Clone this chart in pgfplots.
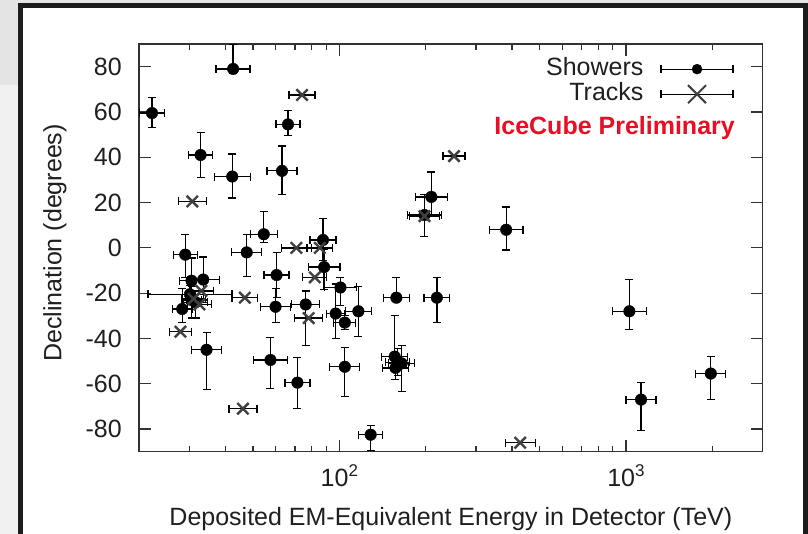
\documentclass[border=0pt]{standalone}
\usepackage{pgfplots}
\pgfplotsset{compat=1.18}
\usepackage{pgfplotstable}
\usepackage{fontspec}
\setmainfont{Liberation Sans}

\definecolor{icered}{RGB}{232,14,36}
\definecolor{framegray}{RGB}{28,28,28}
\definecolor{bgtop}{RGB}{228,228,228}
\definecolor{bglow}{RGB}{241,241,241}
\definecolor{axisgray}{RGB}{50,50,50}

\newcommand{\labelfont}{\fontsize{25bp}{29bp}\selectfont}
\newcommand{\decade}[1]{\mbox{10\raisebox{0.42em}{\fontsize{17bp}{17bp}\selectfont #1}}}

% Cascade-like events: energy (TeV), declination (deg),
% relative energy error (+/-), declination error (+/-)
\pgfplotstableread{
E      dec    xp     xm     yp   ym
42.6   79     .1462  .1276  11   2
22.2   59.5   .1055  .0955  7    6.5
66.2   54.5   .1012  .0919  6    5
32.8   41     .1012  .0919  10   10
42.3   31.5   .1555  .1346  10   9.5
63.1   34     .1280  .1135  11   10.5
209.4  22.5   .1371  .1205  11   8
198.2  14.5   .1462  .1276  9    9.5
382    8      .1462  .1276  10   9
54.5   6      .1145  .1027  10   3.5
87.7   3.5    .1099  .0990  9.5  9
29.0   -3     .1012  .0919  9    10
47.5   -2     .1280  .1135  8    10.5
88.5   -8.5   .1371  .1205  8    10
60.4   -12    .1055  .0955  10   10
30.5   -14.5  .1012  .0919  10   8
33.5   -14    .1371  .1205  10   9
100.9  -17.5  .1371  .1205  4.5  8
158.1  -22    .1099  .0990  9    1
218.9  -22    .1099  .0990  9    11
59.9   -26    .1280  .1135  8    7
76.3   -25    .1189  .1063  6    18
97.1   -29    .0750  .0698  13   11
104.5  -33    .0924  .0846  3    3
116.5  -28    .1099  .0990  11   11
28.3   -27    .0836  .0772  9    6
30.1   -20.5  .4014  .2864  4    4
30.5   -23    .0836  .0772  6    8
31.5   -24    .1012  .0919  5    7
34.4   -45    .1280  .1135  7.5  17.5
57.5   -49.5  .1462  .1276  10   12.5
71.4   -59.5  .1055  .0955  11   11.5
104.5  -52.5  .1280  .1135  8.5  13
128.6  -82.5  .1012  .0919  4    7
156    -48    .1099  .0990  18   6
160    -50.5  .1012  .0919  6    6
165    -51    .1099  .0990  8    12.5
157    -53    .1099  .0990  5    5
1028   -28    .1462  .1276  14   8
1129   -67    .1280  .1135  7.5  13.5
1977   -55.5  .1280  .1135  7.5  11.5
}\showers

% Track-like events: energy (TeV), declination (deg), relative energy error (+/-)
\pgfplotstableread{
E      dec    xp     xm
74.1   67.5   .1099  .0990
30.7   20.5   .1189  .1063
251.3  40.5   .0924  .0846
198.2  14     .1280  .1135
70.8   0      .1280  .1135
85.5   0      .1099  .0990
82.1   -13    .1012  .0919
46.8   -22    .1099  .0990
78.2   -31    .1189  .1063
27.9   -37    .0924  .0846
46.1   -71    .1189  .1063
427.5  -86    .1280  .1135
31     -22.5  .1012  .0919
32.5   -25    .1012  .0919
33     -19    .1012  .0919
}\tracks

\begin{document}
\begin{tikzpicture}
\path[use as bounding box] (0,0) rectangle (808bp,534bp);
\begin{scope}
  \clip (0,0) rectangle (808bp,534bp);
  \fill[bglow] (0,0) rectangle (808bp,534bp);
  \fill[bgtop] (0,449bp) rectangle (808bp,534bp);
  \draw[framegray, line width=5bp, fill=white] (20.5bp,-20bp) rectangle (805.5bp,528.5bp);
\end{scope}
\begin{axis}[
  at={(139bp,82.3bp)}, anchor=south west,
  width=623.7bp, height=407.7bp, scale only axis,
  xmode=log, xmin=20, xmax=3000, ymin=-90, ymax=90,
  xtick={100,1000}, xticklabels={\decade{2},\decade{3}},
  minor xtick={30,40,50,60,70,80,90,200,300,400,500,600,700,800,900,2000},
  ytick={-80,-60,-40,-20,0,20,40,60,80},
  yticklabel={\pgfmathprintnumber[assume math mode=true]{\tick}},
  tick align=inside,
  major tick length=12bp, minor tick length=6bp,
  every tick/.style={line width=1.2bp, axisgray},
  axis line style={line width=1.5bp, axisgray},
  ticklabel style={font=\labelfont, text=black!88},
  xticklabel style={anchor=base, inner sep=0pt, yshift=-35bp},
  yticklabel style={anchor=east, inner sep=0pt, xshift=-17bp},
  xlabel={Deposited EM-Equivalent Energy in Detector (TeV)},
  ylabel={Declination (degrees)},
  every axis x label/.style={at={(axis description cs:0.5,-0.1822)}, anchor=base, font=\labelfont, text=black!88},
  every axis y label/.style={at={(axis description cs:-0.1347,0.512)}, anchor=center, rotate=90, font=\labelfont, text=black!88},
  legend style={at={(axis description cs:0.9535,0.969)}, anchor=north east,
    draw=none, fill=none, inner sep=0pt, outer sep=0pt, font=\labelfont,
    /tikz/column sep=15bp, /tikz/row sep=0bp,
    nodes={inner sep=2bp, text height=17bp, text depth=4bp, text=black!88}},
  legend cell align=right,
  legend plot pos=right,
]
\addplot[only marks, mark=*, mark size=5.8bp, black,
  legend image code/.code={
    \draw[line width=1.3bp, black] (0bp,0bp) -- (72bp,0bp);
    \draw[line width=1.3bp, black] (0bp,-4bp) -- (0bp,4bp) (72bp,-4bp) -- (72bp,4bp);
    \fill[black] (36bp,0bp) circle (5bp);},
  error bars/.cd, x dir=both, x explicit relative, y dir=both, y explicit,
  error bar style={line width=1.3bp, black},
  error mark options={rotate=90, line width=1.3bp, mark size=4bp, black}]
  table[x=E, y=dec, x error plus=xp, x error minus=xm, y error plus=yp, y error minus=ym] {\showers};
\addplot[only marks, mark=x, mark size=8bp, black!75, mark options={line width=2.4bp},
  legend image code/.code={
    \draw[line width=1.3bp, black] (0bp,0bp) -- (72bp,0bp);
    \draw[line width=1.3bp, black] (0bp,-4bp) -- (0bp,4bp) (72bp,-4bp) -- (72bp,4bp);
    \draw[line width=2bp, black!75] (27bp,-9bp) -- (45bp,9bp) (27bp,9bp) -- (45bp,-9bp);},
  error bars/.cd, x dir=both, x explicit relative, y dir=none,
  error bar style={line width=1.3bp, black},
  error mark options={rotate=90, line width=1.3bp, mark size=4bp, black}]
  table[x=E, y=dec, x error plus=xp, x error minus=xm] {\tracks};
\legend{Showers,Tracks}
\node[anchor=east, text=icered, font=\labelfont\bfseries, inner sep=0pt]
  at (axis description cs:0.9556,0.794) {IceCube Preliminary};
\end{axis}
\end{tikzpicture}
\end{document}
